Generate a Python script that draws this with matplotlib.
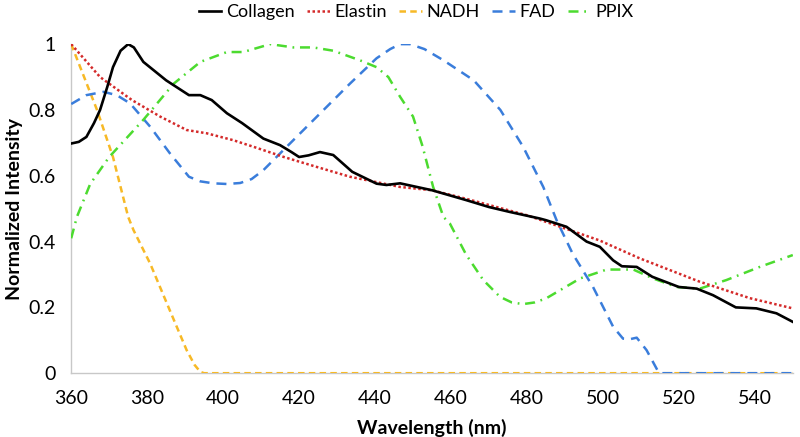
import matplotlib.pyplot as plt
from matplotlib.ticker import FuncFormatter

# wavelength (nm) / normalized intensity
collagen_x = [360, 362, 364, 366, 367.6, 369.5, 371, 373, 375, 376.5, 379, 385, 391, 394, 397, 401, 405,
              410.6, 415, 418, 420, 422.5, 425.5, 429, 434, 440.4, 443, 446.6, 455, 464, 470, 475.5,
              483.4, 485, 490.4, 495.7, 499.2, 502.7, 505, 508.9, 513, 520, 524.7, 529, 535, 540.4,
              545.7, 550]
collagen_y = [0.698, 0.703, 0.718, 0.76, 0.80, 0.87, 0.93, 0.98, 1.0, 0.99, 0.946, 0.89, 0.845, 0.845,
              0.83, 0.79, 0.76, 0.713, 0.693, 0.672, 0.657, 0.662, 0.672, 0.663, 0.612, 0.576, 0.572,
              0.577, 0.556, 0.526, 0.505, 0.49, 0.47, 0.465, 0.445, 0.40, 0.384, 0.343, 0.325, 0.323,
              0.293, 0.262, 0.257, 0.237, 0.20, 0.197, 0.182, 0.156]

elastin_x = [360, 367.6, 376, 383.4, 390.4, 395.7, 402.7, 408, 416, 424.6, 433.4, 446.6, 455, 464,
             472, 480, 485, 499, 509.7, 525.5, 538.7, 550]
elastin_y = [1.0, 0.90, 0.83, 0.78, 0.739, 0.729, 0.708, 0.688, 0.657, 0.627, 0.597, 0.566, 0.556,
             0.53, 0.505, 0.48, 0.46, 0.404, 0.349, 0.278, 0.228, 0.197]

nadh_x = [360, 366.8, 371, 375, 376.4, 380.8, 386, 390.4, 392.5, 394, 395, 550]
nadh_y = [1.0, 0.80, 0.657, 0.475, 0.435, 0.333, 0.19, 0.07, 0.025, 0.004, 0.0, 0.0]

fad_x = [360, 364, 368.5, 372, 375.5, 380.8, 386, 391, 394, 397.4, 401, 404.5, 407.5, 410.6, 417.6,
         425.5, 433.4, 440.4, 444, 446.6, 449.2, 453, 458, 466, 473, 479, 484.3, 487.8, 492, 497.4,
         502.7, 505.3, 507, 508.9, 511.5, 514.6, 515, 550]
fad_y = [0.818, 0.845, 0.855, 0.845, 0.82, 0.749, 0.668, 0.597, 0.583, 0.577, 0.575, 0.578, 0.59,
         0.617, 0.698, 0.789, 0.88, 0.957, 0.985, 1.0, 1.0, 0.985, 0.951, 0.89, 0.80, 0.688, 0.566,
         0.465, 0.364, 0.262, 0.141, 0.105, 0.103, 0.108, 0.07, 0.004, 0.0, 0.0]

ppix_x = [360, 361.5, 365, 370, 379, 387, 394, 401, 405.3, 412.4, 418.5, 423.7, 429, 436, 440.4, 443.5,
          446.6, 450, 452.5, 455.3, 458, 459.7, 464, 468.5, 472.9, 476, 479, 482, 485, 494, 501, 508,
          513.2, 519.4, 525.5, 532.5, 541.3, 550]
ppix_y = [0.41, 0.475, 0.575, 0.657, 0.77, 0.88, 0.946, 0.976, 0.976, 1.0, 0.99, 0.99, 0.98, 0.951,
          0.93, 0.9, 0.84, 0.78, 0.69, 0.566, 0.475, 0.455, 0.36, 0.283, 0.232, 0.215, 0.21, 0.215,
          0.227, 0.288, 0.315, 0.315, 0.288, 0.262, 0.257, 0.283, 0.323, 0.359]

plt.rcParams['font.family'] = ['Lato', 'DejaVu Sans']

fig = plt.figure(figsize=(8, 4.37), dpi=100)
ax = fig.add_axes([0.089, 0.146, 0.902, 0.753])

ax.plot(collagen_x, collagen_y, color='black', lw=1.9, label='Collagen', zorder=5)
ax.plot(elastin_x, elastin_y, color='#D42A2A', lw=1.8, ls=(0, (1, 1)), dash_capstyle='butt',
        label='Elastin', zorder=4)
ax.plot(nadh_x, nadh_y, color='#F7B926', lw=1.8, ls=(0, (2.6, 1.7)), label='NADH', zorder=3)
ax.plot(fad_x, fad_y, color='#3A7DDB', lw=1.8, ls=(0, (4, 2.8)), label='FAD', zorder=3)
ax.plot(ppix_x, ppix_y, color='#4CDB2F', lw=1.8, ls=(0, (4, 2.3, 0.7, 2.3)), label='PPIX', zorder=3)

ax.set_xlim(360, 550)
ax.set_ylim(0, 1)
ax.set_xticks(range(360, 541, 20))
ax.set_yticks([0, 0.2, 0.4, 0.6, 0.8, 1.0])
ax.yaxis.set_major_formatter(FuncFormatter(lambda v, p: f'{v:g}'))
ax.tick_params(length=0, labelsize=14)
ax.tick_params(axis='x', pad=12)
ax.tick_params(axis='y', pad=11)

for s in ['top', 'right']:
    ax.spines[s].set_visible(False)
for s in ['left', 'bottom']:
    ax.spines[s].set_color('#C8C8C8')
    ax.spines[s].set_linewidth(1)

ax.set_xlabel('Wavelength (nm)', fontsize=14, fontweight='bold', labelpad=9)
ax.set_ylabel('Normalized Intensity', fontsize=14, fontweight='bold', labelpad=4)

fig.legend(loc='upper center', bbox_to_anchor=(0.52, 1.028), ncol=5, frameon=False, fontsize=13,
           handlelength=1.25, handletextpad=0.25, columnspacing=0.7)

fig.savefig('out.png', dpi=100)
